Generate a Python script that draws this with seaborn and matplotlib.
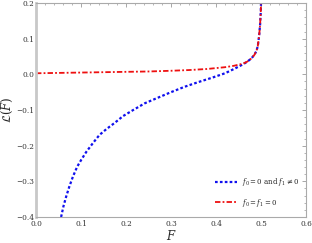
import matplotlib
matplotlib.use("Agg")
import matplotlib.pyplot as plt
import seaborn as sns
import pandas as pd
from matplotlib.ticker import MultipleLocator

# Data
F_blue = [0.0558, 0.061, 0.067, 0.074, 0.082, 0.0915, 0.1004, 0.112, 0.127, 0.141,
          0.156, 0.175, 0.1935, 0.216, 0.242, 0.27, 0.30, 0.33, 0.36, 0.39, 0.42,
          0.44, 0.46, 0.47, 0.478, 0.485, 0.49, 0.493, 0.496, 0.498, 0.4995, 0.5]
L_blue = [-0.400, -0.370, -0.343, -0.315, -0.287, -0.259, -0.240, -0.217, -0.192, -0.170,
          -0.154, -0.136, -0.117, -0.100, -0.081, -0.066, -0.050, -0.035, -0.022, -0.010,
          0.003, 0.015, 0.028, 0.036, 0.044, 0.054, 0.066, 0.080, 0.110, 0.140,
          0.175, 0.200]
F_red = [0.0, 0.05, 0.10, 0.15, 0.20, 0.25, 0.30, 0.34, 0.38, 0.42, 0.44, 0.46,
         0.47, 0.478, 0.485, 0.49, 0.493, 0.496, 0.498, 0.4995, 0.5]
L_red = [0.003, 0.004, 0.005, 0.006, 0.007, 0.008, 0.010, 0.012, 0.015, 0.020, 0.024,
         0.030, 0.036, 0.044, 0.054, 0.066, 0.080, 0.110, 0.140, 0.175, 0.200]
label_blue = r"$f_0 = 0$ and $f_1 \neq 0$"
label_red = r"$f_0 = f_1 = 0$"
x_ticks = [0.0, 0.1, 0.2, 0.3, 0.4, 0.5, 0.6]
y_ticks = [-0.4, -0.3, -0.2, -0.1, 0.0, 0.1, 0.2]

sns.set_theme(style="white")
plt.rcParams["mathtext.fontset"] = "dejavuserif"
plt.rcParams["font.family"] = ["DejaVu Serif"]

df_b = pd.DataFrame({"F": F_blue, "L": L_blue})
df_r = pd.DataFrame({"F": F_red, "L": L_red})

fig = plt.figure(figsize=(3.12, 2.43), dpi=100)
ax = fig.add_axes([36/312, 1 - 217/243, 270/312, 214/243])

sns.lineplot(data=df_b, x="F", y="L", ax=ax, color="#1010ee", lw=1.6,
             linestyle=(0, (1.2, 1.0)), label=label_blue, sort=False)
sns.lineplot(data=df_r, x="F", y="L", ax=ax, color="#ee1010", lw=1.3,
             linestyle=(0, (3, 1.2, 1, 1.2)), label=label_red, sort=False)

ax.set_xlim(0, 0.6)
ax.set_ylim(-0.4, 0.2)
ax.set_xticks(x_ticks)
ax.set_yticks(y_ticks)
ax.set_xticklabels([f"{v:.1f}" for v in x_ticks])
ax.set_yticklabels([f"{v:.1f}".replace("-", "\u2212") for v in y_ticks])
ax.xaxis.set_minor_locator(MultipleLocator(0.02))
ax.yaxis.set_minor_locator(MultipleLocator(0.02))
ax.tick_params(which="both", direction="in", top=True, right=True, color="#999999",
               labelsize=5.3, labelcolor="#333333", pad=1.5)
ax.tick_params(axis="x", which="major", pad=2.5)
ax.tick_params(which="major", length=3, width=0.6)
ax.tick_params(which="minor", length=1.6, width=0.5)
for s in ax.spines.values():
    s.set_color("#aaaaaa")
    s.set_linewidth(0.8)
ax.spines["left"].set_linewidth(2.0)
ax.spines["left"].set_color("#c8c8c8")

ax.set_xlabel(r"$F$", fontsize=8.5, labelpad=0.5)
ax.set_ylabel(r"$\mathcal{L}(F)$", fontsize=8.5, labelpad=1)

leg = ax.legend(loc="lower right", bbox_to_anchor=(1.0, 0.01), frameon=False, fontsize=5,
                handlelength=3.2, handletextpad=0.8, labelspacing=1.2)

fig.savefig("out.png", dpi=100)
